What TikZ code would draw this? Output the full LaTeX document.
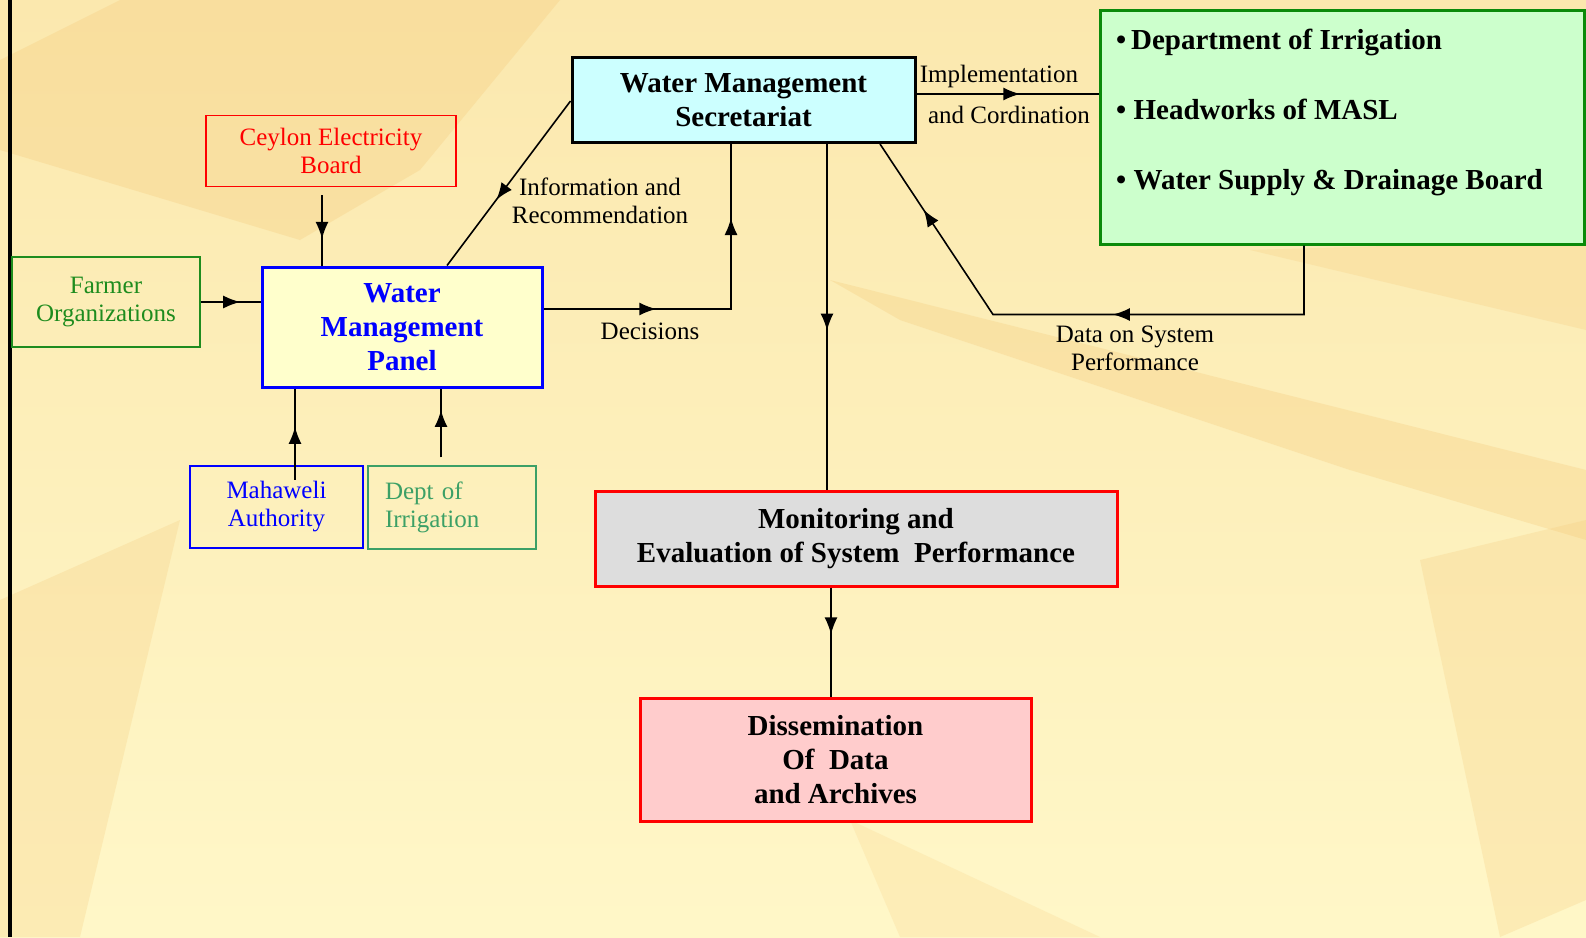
\documentclass[tikz,border=0pt]{standalone}
\usepackage{fontspec}
\setmainfont{Liberation Serif}
\usetikzlibrary{positioning,calc,decorations.markings,arrows.meta}

\definecolor{bgtop}{HTML}{FBE8AE}
\definecolor{bgbottom}{HTML}{FFF7C8}
\definecolor{bgtan}{HTML}{F5C97A}
\definecolor{panelfill}{HTML}{FFFFCC}
\definecolor{wmsfill}{HTML}{CCFFFF}
\definecolor{agencyfill}{HTML}{CCFFCC}
\definecolor{monitorfill}{HTML}{DDDDDD}
\definecolor{dissemfill}{HTML}{FFCCCC}
\definecolor{farmgreen}{HTML}{1E8C1E}
\definecolor{deptgreen}{HTML}{3CA066}
\definecolor{agencygreen}{HTML}{0A8A0A}

\tikzset{
  smallbox/.style={draw, line width=1.5pt, inner sep=0pt, align=center,
    font=\fontsize{25}{28}\selectfont},
  bigbox/.style={draw, line width=3pt, inner sep=0pt, align=center,
    font=\fontsize{29}{34}\selectfont\bfseries},
  lbl/.style={inner sep=0pt, align=center, font=\fontsize{25}{28}\selectfont},
  link/.style={line width=1.6pt},
  arrowat/.style={postaction={decorate}, decoration={markings,
    mark=at position #1 with {\arrow{Latex[length=17pt,width=13pt]}}}},
  twoarrows/.style 2 args={postaction={decorate}, decoration={markings,
    mark=at position #1 with {\arrow{Latex[length=17pt,width=13pt]}},
    mark=at position #2 with {\arrow{Latex[length=17pt,width=13pt]}}}},
}

\begin{document}
\begin{tikzpicture}[x=1pt,y=-1pt]
  \useasboundingbox (0,0) rectangle (1586,937);
  \shade[top color=bgtop, bottom color=bgbottom] (0,0) rectangle (1586,937);
  \fill[bgtan, opacity=.3] (120,0) -- (560,0) -- (420,170) -- (300,240) -- (0,150) -- (0,60) -- cycle;
  \fill[bgtan, opacity=.3] (830,280) -- (1586,470) -- (1586,540) -- (1350,470) -- (900,320) -- cycle;
  \fill[bgtan, opacity=.25] (0,600) -- (180,520) -- (80,937) -- (0,937) -- cycle;
  \fill[bgtan, opacity=.25] (1250,250) -- (1586,240) -- (1586,330) -- cycle;
  \fill[bgtan, opacity=.25] (1420,560) -- (1586,520) -- (1586,900) -- (1500,937) -- cycle;
  \fill[bgtan, opacity=.2] (850,820) -- (1100,937) -- (900,937) -- cycle;
  \fill[black] (8,0) rectangle (12,937);

  % boxes
  \node[smallbox, draw=farmgreen, text=farmgreen, minimum width=188pt, minimum height=90pt]
    (farmer) at (106,302) {Farmer\\Organizations};
  \node[smallbox, draw=red, text=red, minimum width=250pt, minimum height=71pt]
    (ceb) at (331,151) {Ceylon Electricity\\Board};
  \node[bigbox, draw=blue, text=blue, fill=panelfill, minimum width=280pt, minimum height=120pt]
    (panel) at (402,327) {Water\\Management\\Panel};
  \node[smallbox, draw=blue, text=blue, minimum width=173pt, minimum height=82pt]
    (mahaweli) at (276.5,507) {Mahaweli\\Authority};
  \node[smallbox, draw=deptgreen, text=deptgreen, text width=134pt, inner xsep=17pt,
    align=left, minimum height=83pt]
    (dept) at (452,507.5) {Dept of\\Irrigation};
  \node[bigbox, fill=wmsfill, minimum width=343pt, minimum height=85pt]
    (wms) at (743.5,100) {Water Management\\Secretariat};
  \node[bigbox, draw=agencygreen, fill=agencyfill, minimum width=484pt, minimum height=234pt]
    (agencies) at (1342,127) {};
  \node[anchor=north west, inner sep=0pt, align=left, font=\fontsize{29}{70}\selectfont\bfseries]
    (agencylist) at (1116,29) {\textbullet\,Department of Irrigation\\
      \textbullet\ Headworks of MASL\\
      \textbullet\ Water Supply \& Drainage Board};
  \node[bigbox, draw=red, fill=monitorfill, minimum width=522pt, minimum height=95pt]
    (monitor) at (856,538.5) {Monitoring and\\Evaluation of System\ \ Performance};
  \node[bigbox, draw=red, fill=dissemfill, minimum width=391pt, minimum height=123pt]
    (dissem) at (835.5,759.5) {Dissemination\\Of\ \ Data\\and Archives};

  % labels
  \node[lbl] (infolbl) at (600,201) {Information and\\Recommendation};
  \node[lbl] (declbl) at (650,331) {Decisions};
  \node[lbl] (impllbl) at (999,76) {Implementation};
  \node[lbl] (cordlbl) at (1009,115) {and Cordination};
  \node[lbl] (datalbl) at (1135,348) {Data on System\\Performance};

  % connectors
  \coordinate (mahfoot) at ([xshift=18.5pt,yshift=-14.5pt]mahaweli.north);
  \coordinate (datacorner) at (993,314.5);
  \draw[link, arrowat=0.66, shorten <=8pt]
    ([xshift=-9pt]ceb.south) -- ([xshift=-9pt]ceb.south |- panel.north);
  \draw[link, arrowat=0.66] (farmer.east) -- (farmer.east -| panel.west);
  \draw[link, arrowat=0.58] (mahfoot) -- (mahfoot |- panel.south);
  \draw[link, arrowat=0.72, shorten <=8pt]
    ([xshift=-11pt]dept.north) -- ([xshift=-11pt]dept.north |- panel.south);
  \draw[link, twoarrows={0.32}{0.79}]
    ([yshift=18pt]panel.east) -| ([xshift=-12.5pt]wms.south);
  \draw[link, arrowat=0.6] ([yshift=-1pt]wms.west) -- ([xshift=45pt]panel.north);
  \draw[link, arrowat=0.57] ([yshift=6pt]wms.east) -- ([yshift=6pt]wms.east -| agencies.west);
  \draw[link, twoarrows={0.445}{0.865}]
    ([xshift=-38pt]agencies.south) |- (datacorner) -- ([xshift=136.5pt]wms.south);
  \draw[link, arrowat=0.54]
    ([xshift=83.5pt]wms.south) -- ([xshift=83.5pt]wms.south |- monitor.north);
  \draw[link, arrowat=0.43]
    ([xshift=-25pt]monitor.south) -- ([xshift=-25pt]monitor.south |- dissem.north);
\end{tikzpicture}
\end{document}
